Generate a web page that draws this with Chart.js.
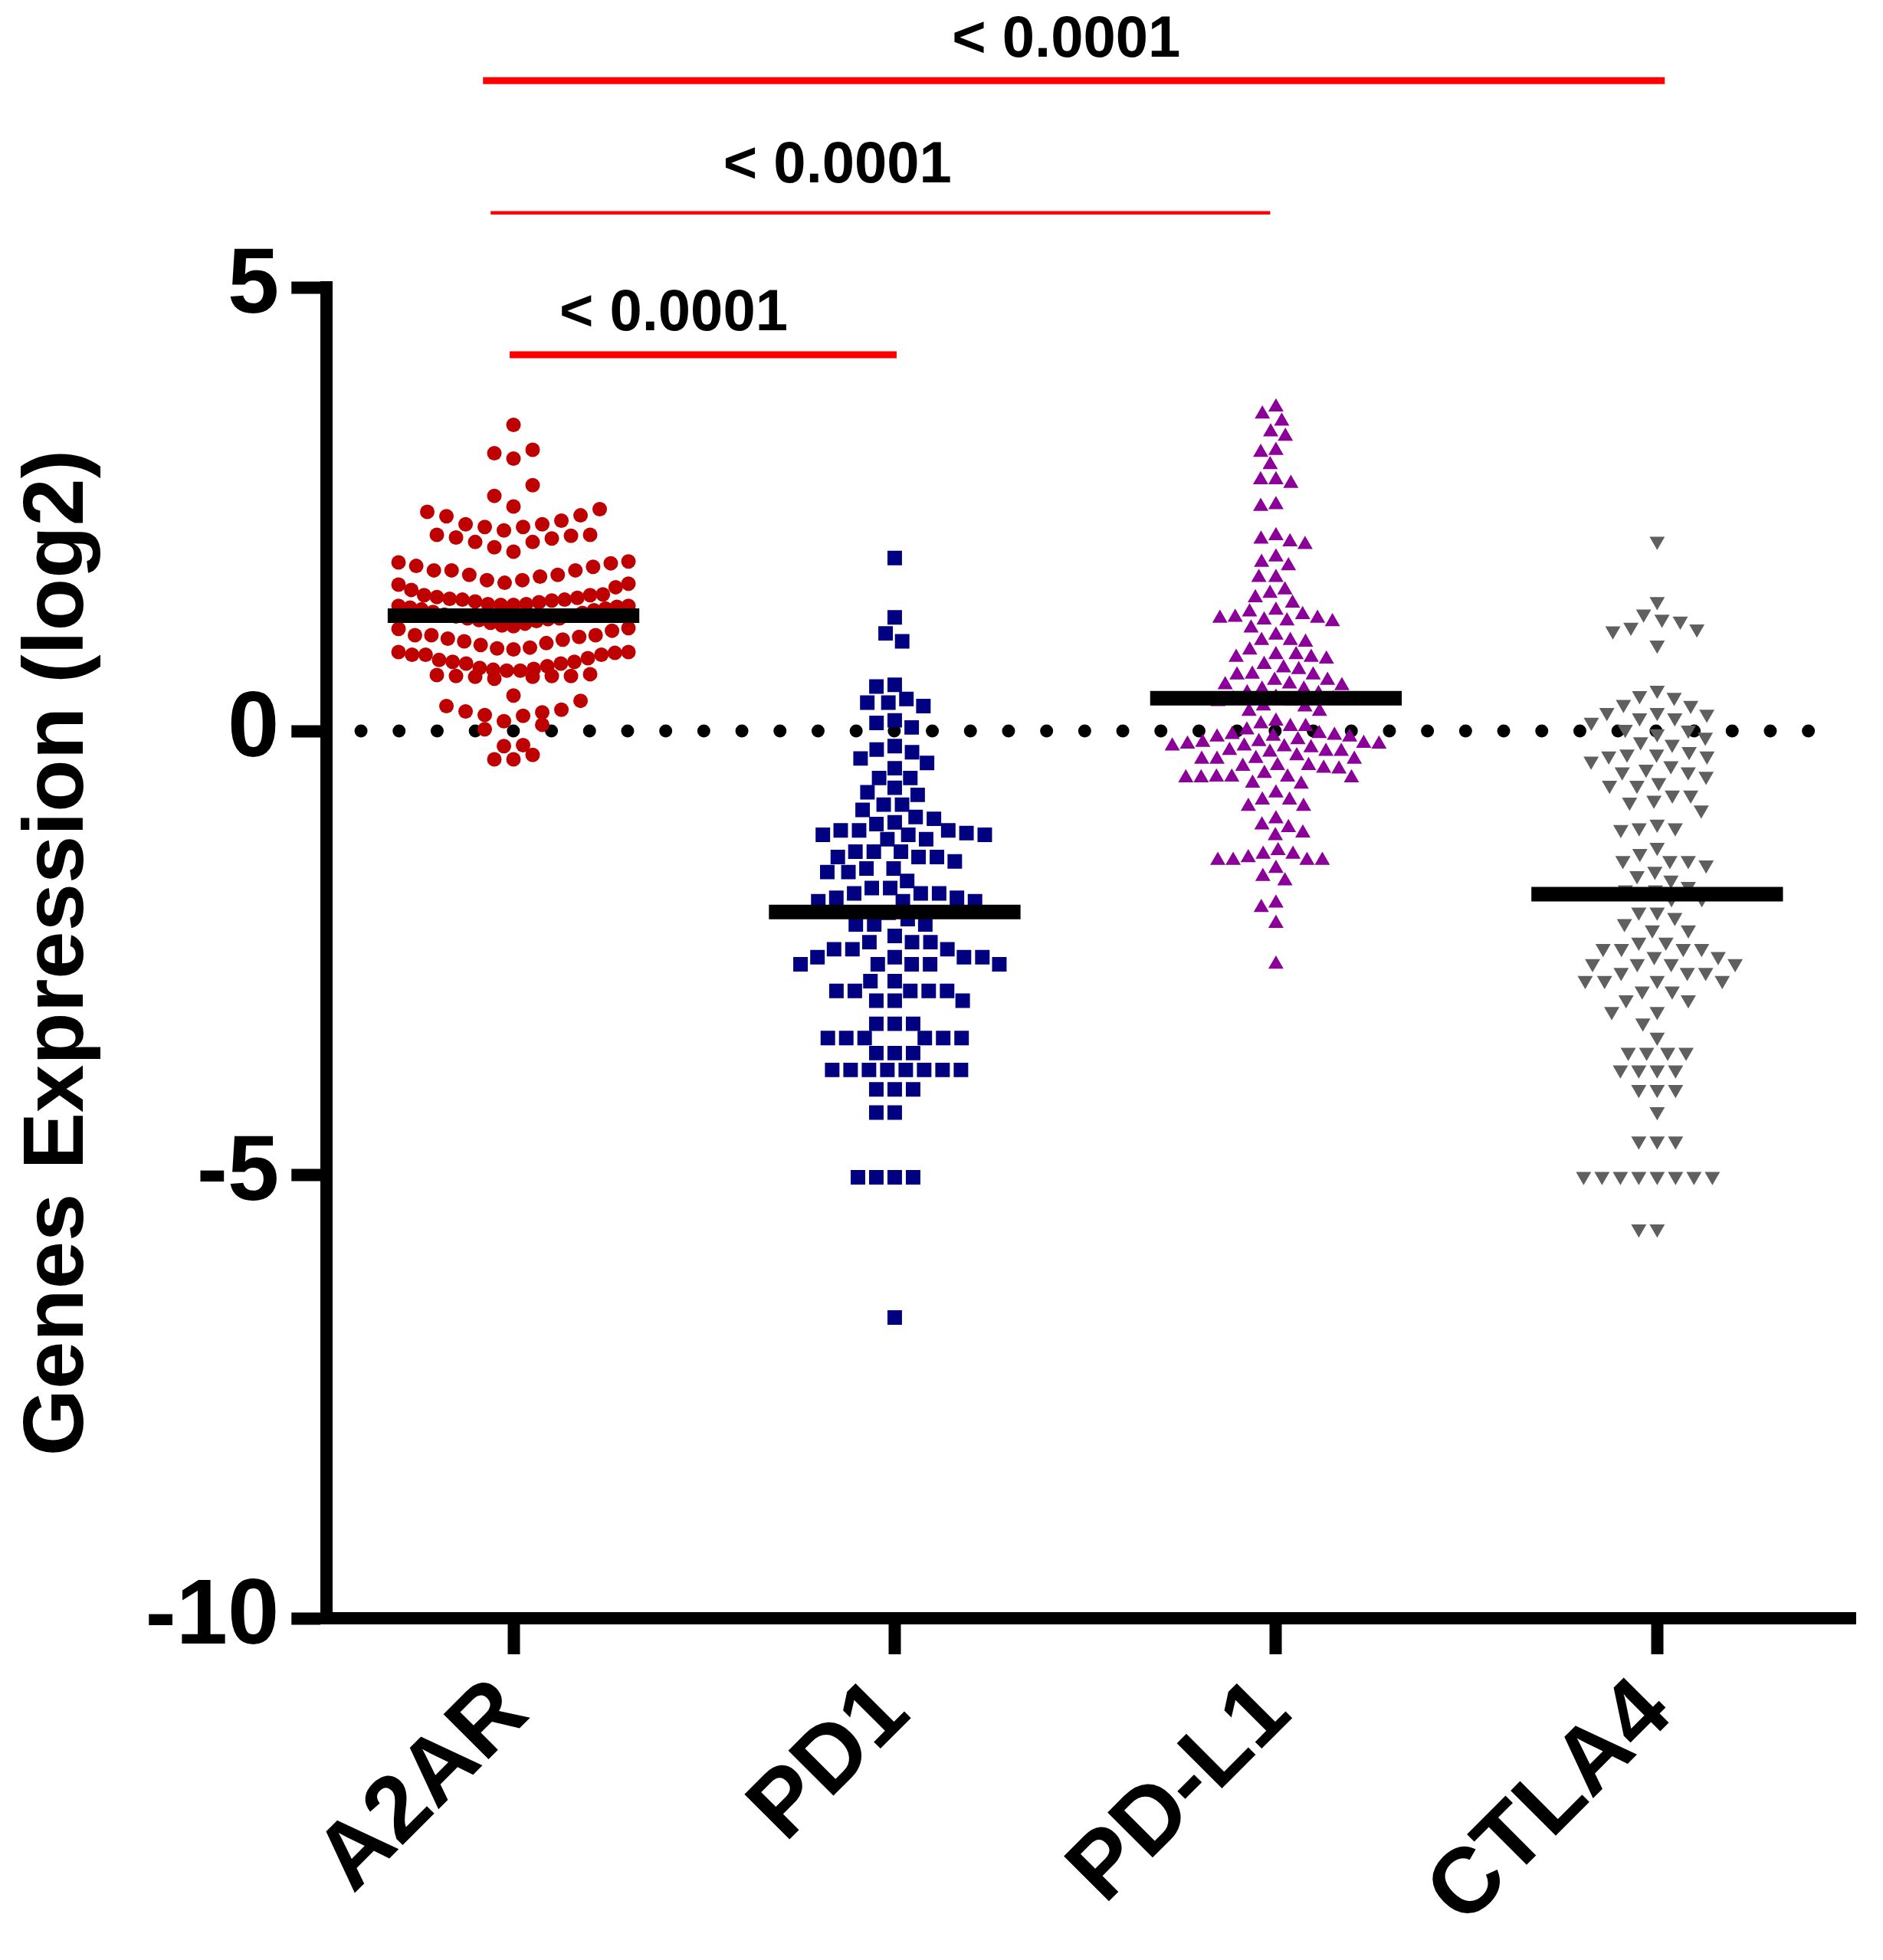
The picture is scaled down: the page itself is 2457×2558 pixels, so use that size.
<!DOCTYPE html>
<html>
<head>
<meta charset="utf-8">
<script src="https://cdn.jsdelivr.net/npm/chart.js@4.4.1/dist/chart.umd.min.js"></script>
<style>
  html, body { margin: 0; padding: 0; background: #fff; }
</style>
</head>
<body>
<canvas id="chart" width="2457" height="2558"></canvas>
<script>
const categories = ['A2AR', 'PD1', 'PD-L1', 'CTLA4'];

const a2arValues = [
  3.45, 3.17, 3.13, 3.07, 2.77, 2.65,
  2.53, 2.50, 2.47, 2.43, 2.42, 2.37,
  2.33, 2.33, 2.30, 2.30, 2.26, 2.21, 2.21, 2.20, 2.18, 2.17, 2.13, 2.13, 2.07, 2.02,
  1.91, 1.90, 1.89, 1.86, 1.85,
  1.81, 1.81, 1.81, 1.76, 1.76, 1.70, 1.70, 1.67, 1.66, 1.65, 1.62, 1.59, 1.74,
  1.54, 1.53, 1.51, 1.49, 1.48, 1.47, 1.45, 1.43, 1.42, 1.42, 1.43, 1.46, 1.48, 1.50, 1.53,
  1.41, 1.40, 1.38, 1.36, 1.33, 1.30, 1.29, 1.31, 1.34, 1.37, 1.39, 1.41,
  1.27, 1.26, 1.24, 1.21, 1.18, 1.15, 1.13, 1.16, 1.19, 1.22, 1.25, 1.27,
  1.08, 1.08, 1.04, 1.01, 0.97, 0.93, 0.89, 0.88, 0.86, 0.86, 0.82, 0.86, 0.89, 0.92, 0.94, 0.99, 1.03, 1.06, 1.08,
  0.78, 0.76, 0.73, 0.70, 0.68, 0.64, 0.62, 0.62, 0.61, 0.59, 0.61, 0.62, 0.63, 0.68, 0.69, 0.71, 0.76, 0.78, 0.80,
  0.40, 0.34, 0.28, 0.24, 0.21, 0.17, 0.22, 0.18, 0.11, 0.07, 0.02,
  -0.16, -0.17, -0.27, -0.32, -0.32
];

const pd1Values = [
  1.95, 1.28, 1.10, 1.01, 0.52, 0.50, 0.36, 0.32, 0.32, 0.28, 0.12, 0.09, 0.04,
  -0.17, -0.21, -0.24, -0.31, -0.36, -0.42, -0.53, -0.53, -0.64, -0.69, -0.72,
  -0.83, -0.83, -0.89, -0.97, -0.99, -1.03, -1.05, -1.12, -1.12, -1.12,
  -1.15, -1.17, -1.17, -1.17, -1.22, -1.22,
  -1.36, -1.36, -1.36, -1.42, -1.42, -1.42, -1.47,
  -1.55, -1.55, -1.59, -1.59, -1.69, -1.77, -1.77, -1.83, -1.83, -1.83, -1.88, -1.88, -1.92, -1.92, -1.92,
  -2.05, -2.12, -2.18, -2.18, -2.18, -2.31, -2.38, -2.38, -2.38,
  -2.46, -2.46, -2.46, -2.55, -2.55, -2.55, -2.55, -2.63, -2.63, -2.63, -2.63, -2.63,
  -2.82, -2.82, -2.93, -2.93, -2.93, -2.93, -2.93, -3.04, -3.04, -3.04,
  -3.30, -3.30, -3.30, -3.46, -3.46, -3.46, -3.46, -3.46, -3.46,
  -3.63, -3.63, -3.63, -3.82, -3.82, -3.82, -3.82, -3.82, -3.82, -3.82, -3.82,
  -4.04, -4.04, -4.04, -4.30, -4.30, -5.03, -5.03, -5.03, -5.03, -6.61
];

const pdl1Values = [
  3.65, 3.57, 3.49, 3.37, 3.32, 3.14, 3.16, 3.00, 2.83, 2.79, 2.83, 2.53, 2.55,
  2.20, 2.13, 2.10, 2.16, 1.96, 1.86, 1.90, 1.73, 1.73, 1.59, 1.55, 1.50,
  1.44, 1.34, 1.23, 1.28, 1.27, 1.24, 1.25, 1.27, 1.31, 1.36, 1.16,
  1.08, 1.02, 1.00, 1.02, 0.91,
  0.86, 0.83, 0.81, 0.71, 0.75, 0.83, 0.86,
  0.64, 0.63, 0.57, 0.51, 0.47, 0.47, 0.52, 0.53, 0.57, 0.63, 0.69,
  0.42, 0.43, 0.36, 0.34, 0.33, 0.36, 0.38,
  0.27, 0.22, 0.22, 0.28,
  0.08, 0.05, -0.03, -0.05, -0.07, -0.07, -0.06, -0.04, 0.01, 0.05, 0.11,
  -0.10, -0.13, -0.15, -0.17, -0.18, -0.22, -0.23, -0.28, -0.32, -0.32, -0.32, -0.31,
  -0.24, -0.23, -0.19, -0.17, -0.15, -0.14, -0.12,
  -0.39, -0.39,
  -0.40, -0.43, -0.52, -0.52, -0.53, -0.59, -0.60, -0.53, -0.53, -0.52, -0.48, -0.42,
  -0.70, -0.78, -0.85, -0.85, -0.78,
  -0.99, -1.06, -1.09, -1.15, -1.18,
  -1.35, -1.39, -1.39, -1.43, -1.46, -1.46, -1.46, -1.46,
  -1.55, -1.64, -1.69, -1.94, -1.99, -2.17, -2.63
];

const ctla4Values = [
  2.14, 1.46, 1.32, 1.24, 1.17, 1.26, 1.15, 1.13, 0.97,
  0.46, 0.40, 0.38, 0.30, 0.29, 0.21, 0.21, 0.19, 0.15, 0.15, 0.10,
  0.02, 0.01, -0.03, -0.07, -0.15, -0.12,
  -0.26, -0.28, -0.28, -0.26, -0.23, -0.34,
  -0.39, -0.46, -0.51, -0.46, -0.43,
  -0.61, -0.61, -0.58,
  -0.72, -0.78, -0.80, -0.72, -0.89,
  -1.09, -1.11, -1.09, -1.05,
  -1.31, -1.38, -1.46, -1.46, -1.46, -1.51, -1.58, -1.63, -1.68, -1.75,
  -1.79, -1.79, -1.89, -1.89,
  -2.04, -2.04, -2.17, -2.10,
  -2.24, -2.24, -2.38, -2.38, -2.45, -2.45, -2.45, -2.45,
  -2.54, -2.54, -2.62, -2.62, -2.62, -2.62, -2.72, -2.72, -2.72,
  -2.81, -2.81, -2.81, -2.81, -2.93, -2.93, -3.03, -3.03, -3.16, -3.16, -3.29, -3.45,
  -3.62, -3.62, -3.62, -3.62, -3.82, -3.82, -3.82, -3.82,
  -4.04, -4.04, -4.04, -4.29, -4.62, -4.62, -4.62,
  -5.02, -5.02, -5.02, -5.02, -5.02, -5.02, -5.02, -5.02, -5.61, -5.61
];

const medians = [1.30, -2.04, 0.37, -1.84];

const comparisons = [[0, 1], [0, 2], [0, 3]];
const pLabels = ['< 0.0001', '< 0.0001', '< 0.0001'];

const yTicks = [5, 0, -5, -10];

const FONT = "'Liberation Sans', Arial, sans-serif";

// marker look and spreading for each group
const groups = [
  { values: a2arValues,  color: '#BF0000', style: 'circle',   radius: 9.5,  rotation: 0,   spread: 'rows',  gap: 25 },
  { values: pd1Values,   color: '#000080', style: 'rect',     radius: 13.4, rotation: 0,   spread: 'swarm', gap: 24 },
  { values: pdl1Values,  color: '#8A0099', style: 'triangle', radius: 11.5, rotation: 0,   spread: 'swarm', gap: 20 },
  { values: ctla4Values, color: '#5F5F5F', style: 'triangle', radius: 11.5, rotation: 180, spread: 'swarm', gap: 24 }
];

// beeswarm: each point goes to the free spot nearest the centre
function swarm(py, gap) {
  const order = py.map((y, i) => i).sort((a, b) => py[a] - py[b]);
  const placed = [];
  const out = new Array(py.length).fill(0);
  order.forEach(i => {
    const y = py[i];
    const near = placed.filter(p => Math.abs(p.y - y) < gap);
    const cands = [0];
    near.forEach(p => {
      const dx = Math.sqrt(gap * gap - (p.y - y) * (p.y - y));
      cands.push(p.x - dx, p.x + dx);
    });
    cands.sort((a, b) => Math.abs(a) - Math.abs(b));
    let x = 0;
    for (const c of cands) {
      if (near.every(p => (p.x - c) ** 2 + (p.y - y) ** 2 >= gap * gap - 0.5)) { x = c; break; }
    }
    placed.push({ x, y });
    out[i] = x;
  });
  return out;
}

// row layout: points inside a band share a row, lowest in the middle,
// rows squeezed when they would get wider than maxWidth
function rowSpread(py, gap, band, maxWidth) {
  const order = py.map((y, i) => i).sort((a, b) => py[a] - py[b]);
  const out = new Array(py.length).fill(0);
  let k = 0;
  while (k < order.length) {
    const top = py[order[k]];
    const row = [];
    while (k < order.length && py[order[k]] < top + band) row.push(order[k++]);
    row.sort((a, b) => py[b] - py[a]);
    const n = row.length;
    const step = n > 1 ? Math.min(gap, maxWidth / (n - 1)) : 0;
    const slots = [];
    for (let j = 0; j < n; j++) slots.push((j - (n - 1) / 2) * step);
    slots.sort((a, b) => Math.abs(a) - Math.abs(b) || a - b);
    row.forEach((idx, j) => { out[idx] = slots[j]; });
  }
  return out;
}

const pointSets = groups.map((g, gi) => ({
  type: 'scatter',
  label: categories[gi],
  data: g.values.map(v => ({ x: gi, y: v })),
  pointStyle: g.style,
  pointRadius: g.radius,
  pointRotation: g.rotation,
  pointBackgroundColor: g.color,
  pointBorderWidth: 0,
  borderColor: g.color,
  order: 2
}));

const medianSets = medians.map((m, gi) => ({
  type: 'line',
  data: [{ x: gi - 0.33, y: m }, { x: gi + 0.33, y: m }],
  borderColor: '#000',
  borderWidth: 19,
  borderCapStyle: 'butt',
  pointRadius: 0,
  order: 1
}));

const zeroLine = {
  type: 'line',
  data: [{ x: -0.40, y: 0 }, { x: 3.46, y: 0 }],
  borderColor: '#000',
  borderWidth: 17,
  borderDash: [0, 49.7],
  borderCapStyle: 'round',
  pointRadius: 0,
  order: 3
};

// significance bars over the groups
const bracketPlugin = {
  id: 'brackets',
  afterDatasetsDraw(chart, args, opts) {
    const { ctx, scales: { x, y } } = chart;
    ctx.save();
    comparisons.forEach((pair, i) => {
      const x1 = x.getPixelForValue(pair[0] + opts.startShift[i]);
      const x2 = x.getPixelForValue(pair[1] + opts.endShift[i]);
      const ly = y.getPixelForValue(opts.levels[i]);
      ctx.strokeStyle = '#FF0000';
      ctx.lineWidth = opts.widths[i];
      ctx.lineCap = 'butt';
      ctx.beginPath();
      ctx.moveTo(x1, ly);
      ctx.lineTo(x2, ly);
      ctx.stroke();
      ctx.fillStyle = '#000';
      ctx.font = 'bold 76px ' + FONT;
      ctx.textAlign = 'center';
      ctx.textBaseline = 'middle';
      ctx.fillText(pLabels[i], x.getPixelForValue(opts.labelX[i]), y.getPixelForValue(opts.labelLevels[i]));
    });
    ctx.restore();
  }
};

const chart = new Chart(document.getElementById('chart'), {
  type: 'scatter',
  data: { datasets: [...pointSets, ...medianSets, zeroLine] },
  options: {
    responsive: false,
    devicePixelRatio: 1,
    animation: false,
    layout: { padding: { top: 375, right: 36, bottom: 0, left: 0 } },
    plugins: {
      legend: { display: false },
      tooltip: { enabled: false },
      brackets: {
        levels: [4.24, 5.84, 7.33],
        labelLevels: [4.70, 6.36, 7.78],
        widths: [9, 4.5, 9],
        startShift: [-0.01, -0.06, -0.08],
        endShift: [0.005, -0.015, 0.02],
        labelX: [0.42, 0.85, 1.45]
      }
    },
    scales: {
      x: {
        type: 'linear',
        min: -0.49,
        max: 3.52,
        afterBuildTicks: axis => { axis.ticks = categories.map((c, i) => ({ value: i })); },
        afterFit: axis => { axis.height = 446; },
        ticks: {
          callback: v => categories[v],
          font: { family: FONT, size: 121, weight: 'bold' },
          color: '#000',
          maxRotation: 45,
          minRotation: 45,
          padding: 6
        },
        grid: { drawOnChartArea: false, tickLength: 47, tickWidth: 16, tickColor: '#000' },
        border: { color: '#000', width: 16 }
      },
      y: {
        min: -10,
        max: 5,
        afterBuildTicks: axis => { axis.ticks = yTicks.map(v => ({ value: v })); },
        ticks: {
          font: { family: FONT, size: 121, weight: 'bold' },
          color: '#000',
          padding: 16
        },
        grid: { drawOnChartArea: false, tickLength: 46, tickWidth: 16, tickColor: '#000' },
        border: { color: '#000', width: 16 },
        title: {
          display: true,
          text: 'Genes Expression (log2)',
          font: { family: FONT, size: 112, weight: 'bold' },
          color: '#000',
          padding: { top: 10, bottom: 29 }
        }
      }
    }
  },
  plugins: [bracketPlugin]
});

// spread the points sideways now that the scales are known
const unit = chart.scales.x.getPixelForValue(1) - chart.scales.x.getPixelForValue(0);
groups.forEach((g, gi) => {
  const py = g.values.map(v => chart.scales.y.getPixelForValue(v));
  const off = g.spread === 'rows' ? rowSpread(py, g.gap, 28, 300) : swarm(py, g.gap);
  chart.data.datasets[gi].data = g.values.map((v, i) => ({ x: gi + off[i] / unit, y: v }));
});
chart.update('none');
</script>
</body>
</html>
